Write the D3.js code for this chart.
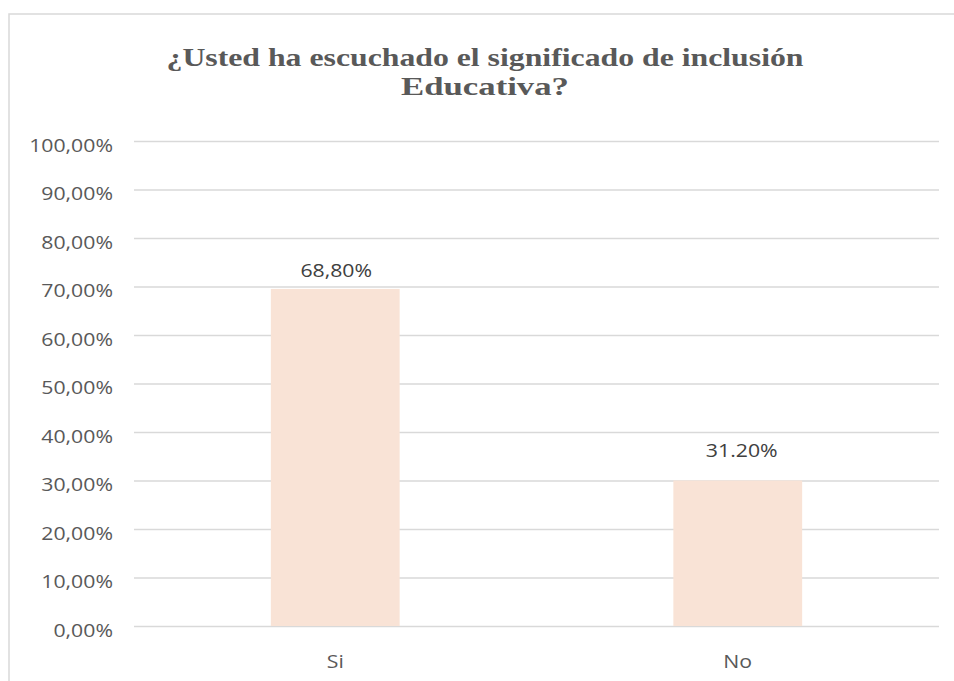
<!DOCTYPE html>
<html>
<head>
<meta charset="utf-8">
<script src="https://cdn.jsdelivr.net/npm/d3@7"></script>
<style>
  html, body { margin: 0; padding: 0; background: #fff; }
  svg { display: block; }
</style>
</head>
<body>
<svg id="chart" width="954" height="681"></svg>
<script>
// ---- data ----
const titleLines = ["¿Usted ha escuchado el significado de inclusión", "Educativa?"];
const categories = ["Si", "No"];
const values = [0.695, 0.300];
const valueLabels = ["68,80%", "31.20%"];
const yTicks = [0, 0.1, 0.2, 0.3, 0.4, 0.5, 0.6, 0.7, 0.8, 0.9, 1.0];
const yTickLabels = ["0,00%", "10,00%", "20,00%", "30,00%", "40,00%", "50,00%", "60,00%", "70,00%", "80,00%", "90,00%", "100,00%"];

// ---- layout / style ----
const W = 954, H = 681;
const plot = { left: 134, right: 939, top: 141, bottom: 626 };
const labelOffsets = [-12, -24];
const sx = 1.15; // horizontal stretch of text
const svg = d3.select("#chart");

// chart border
svg.append("rect")
  .attr("x", 9).attr("y", 14)
  .attr("width", 960).attr("height", 700)
  .attr("fill", "#fff")
  .attr("stroke", "#D9D9D9").attr("stroke-width", 1.5);

// title
const title = svg.append("g");
const titleWidths = [637, 168];
titleLines.forEach((t, i) => {
  title.append("text")
    .attr("x", 485).attr("y", 66 + i * 29)
    .attr("text-anchor", "middle")
    .attr("font-family", "'Liberation Serif', 'Times New Roman', serif")
    .attr("font-weight", "bold")
    .attr("font-size", 26)
    .attr("fill", "#595959")
    .attr("textLength", titleWidths[i])
    .attr("lengthAdjust", "spacingAndGlyphs")
    .text(t);
});

// scales
const x = d3.scaleBand().domain(categories).range([plot.left, plot.right]).padding(0);
const y = d3.scaleLinear().domain([0, 1]).range([plot.bottom, plot.top]);

// gridlines
const grid = svg.append("g").attr("transform", `translate(${plot.left},0)`)
  .call(d3.axisLeft(y).tickValues(yTicks).tickSize(-(plot.right - plot.left)).tickFormat(""));
grid.select(".domain").remove();
grid.selectAll("line").attr("stroke", "#D9D9D9").attr("stroke-width", 1.5);

// y axis labels
const yAxis = svg.append("g").attr("transform", `translate(113,0)`)
  .call(d3.axisLeft(y).tickValues(yTicks).tickSize(0).tickPadding(0)
    .tickFormat((d, i) => yTickLabels[i]));
yAxis.select(".domain").remove();
yAxis.selectAll("text")
  .attr("font-family", "'Open Sans', sans-serif")
  .attr("font-size", 18.5)
  .attr("fill", "#595959")
  .attr("dy", null)
  .attr("y", 10)
  .attr("x", 0)
  .attr("text-anchor", "end")
  .attr("transform", `scale(${sx},1)`);

// bars
const barW = x.bandwidth() * 0.32;
svg.append("g").selectAll("rect")
  .data(values)
  .join("rect")
  .attr("x", (d, i) => x(categories[i]) + x.bandwidth() / 2 - barW / 2)
  .attr("y", d => y(d))
  .attr("width", barW)
  .attr("height", d => y(0) - y(d))
  .attr("fill", "#F9E3D6");

// value labels
svg.append("g").selectAll("text")
  .data(values)
  .join("text")
  .attr("transform", (d, i) => `translate(${x(categories[i]) + x.bandwidth() / 2 + (i === 1 ? 4 : 1)},${y(d) + labelOffsets[i]}) scale(${sx},1)`)
  .attr("text-anchor", "middle")
  .attr("font-family", "'Open Sans', sans-serif")
  .attr("font-size", 18.5)
  .attr("fill", "#404040")
  .text((d, i) => valueLabels[i]);

// x axis labels
const xAxis = svg.append("g").attr("transform", `translate(0,${plot.bottom})`)
  .call(d3.axisBottom(x).tickSize(0).tickPadding(0));
xAxis.select(".domain").remove();
xAxis.selectAll("text")
  .attr("font-family", "'Open Sans', sans-serif")
  .attr("font-size", 18.5)
  .attr("fill", "#595959")
  .attr("dy", null)
  .attr("y", 0)
  .attr("transform", `translate(0,42) scale(${sx},1)`);
</script>
</body>
</html>
